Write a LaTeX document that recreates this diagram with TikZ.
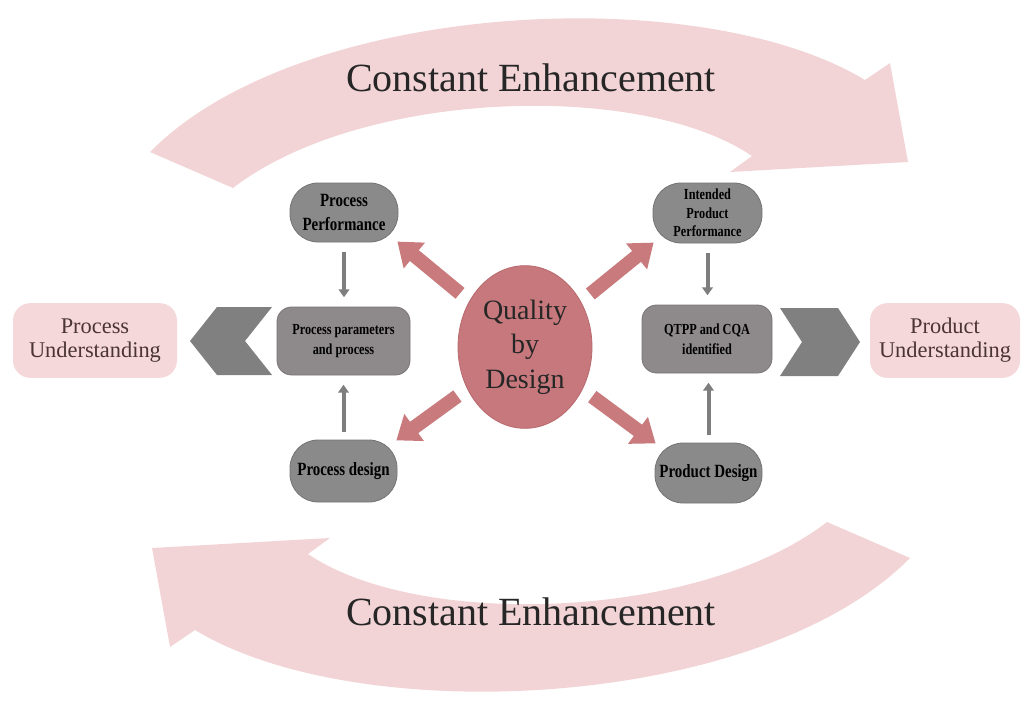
\documentclass[tikz,border=0pt]{standalone}
\usepackage{fontspec}
\setmainfont{Liberation Serif}
\newfontfamily\narrowbf[FakeStretch=0.8]{Liberation Serif}
\usetikzlibrary{arrows.meta,shapes.geometric}
\definecolor{bandpink}{HTML}{F2D4D6}
\definecolor{boxpink}{HTML}{F5D8DA}
\definecolor{boxtext}{HTML}{4A3434}
\definecolor{stadgray}{HTML}{8A8A8A}
\definecolor{stadline}{HTML}{747474}
\definecolor{rectgray}{HTML}{8E8A8C}
\definecolor{rectline}{HTML}{7A7678}
\definecolor{chevgray}{HTML}{808080}
\definecolor{qbdfill}{HTML}{C6787C}
\definecolor{qbdline}{HTML}{B8696E}
\definecolor{redarr}{HTML}{C87A7D}
\definecolor{arrgray}{HTML}{7E7E7E}
\begin{document}
\begin{tikzpicture}[x=0.75pt,y=-0.75pt,
  stadium/.style={draw=stadline, line width=0.6pt, fill=stadgray, rounded corners=21pt,
    align=center, inner sep=0pt, text=black,
    font=\narrowbf\bfseries\fontsize{14}{18}\selectfont},
  graybox/.style={draw=rectline, line width=0.6pt, fill=rectgray, rounded corners=11pt,
    align=center, inner sep=0pt, text=black,
    font=\narrowbf\bfseries\fontsize{11.5}{15}\selectfont},
  pinkbox/.style={fill=boxpink, rounded corners=13pt, align=center, inner sep=0pt,
    text=boxtext, font=\fontsize{16.8}{18}\selectfont},
  chevron/.style={fill=chevgray},
  band/.style={fill=bandpink},
  bandtext/.style={font=\fontsize{30}{36}\selectfont, text=black!85},
  redarrow/.style={draw=redarr, line width=10.5pt,
    -{Triangle[width=24pt,length=16.5pt]}, shorten <=9pt, shorten >=-1pt},
  grayarrow/.style={draw=arrgray, line width=3pt,
    -{Triangle[width=8pt,length=6pt]}}
]
\useasboundingbox (0,0) rectangle (1029,707);

% curved bands
\foreach \r in {0,180}{
  \fill[band, rotate around={\r:(530,355)}]
    (150,152) .. controls (300,0) and (700,-20) .. (865,80)
    -- (890,63) -- (908,162) -- (730,172) -- (752,156)
    .. controls (640,80) and (360,90) .. (233,188) -- cycle;
}
\node[bandtext] (ce1) at (531,78) {Constant Enhancement};
\node[bandtext] (ce2) at (531,612) {Constant Enhancement};

% chevrons
\fill[chevron] (272,307) -- (217,307) -- (190,341) -- (217,375) -- (272,375) -- (245,341) -- cycle;
\fill[chevron] (780,308) -- (838,308) -- (860,342) -- (838,376) -- (780,376) -- (802,342) -- cycle;

% nodes
\node[pinkbox, minimum width=123pt, minimum height=56pt] (pu) at (95,340.5) {Process\\Understanding};
\node[pinkbox, minimum width=112.5pt, minimum height=56pt] (pru) at (945,340.5) {Product\\Understanding};

\node[stadium, minimum width=81pt, minimum height=44.25pt] (pp) at (344,212.5) {Process\\Performance};
\node[stadium, minimum width=81.75pt, minimum height=45pt,
  font=\narrowbf\bfseries\fontsize{11.5}{14}\selectfont] (ipp) at (707.5,213) {Intended\\Product\\Performance};
\node[stadium, minimum width=80.25pt, minimum height=46.5pt] (pdes) at (343.5,471) {Process design};
\node[stadium, minimum width=80.25pt, minimum height=45pt] (prdes) at (708.5,473) {Product Design};

\node[graybox, minimum width=99.75pt, minimum height=51pt] (ppar) at (343.5,341) {Process parameters\\and process};
\node[graybox, minimum width=97.5pt, minimum height=51pt] (qtpp) at (707,339) {QTPP and CQA\\identified};

\node[ellipse, draw=qbdline, line width=0.6pt, fill=qbdfill, minimum width=100.5pt, minimum height=122pt,
  inner sep=0pt, align=center, text=black!85, font=\fontsize{21}{26}\selectfont] (qbd) at (525,347) {Quality\\by\\Design};

% red arrows
\draw[redarrow] (qbd) -- (pp.south east);
\draw[redarrow] (qbd) -- (ipp.south west);
\draw[redarrow] (qbd) -- (pdes.north east);
\draw[redarrow] (qbd) -- (prdes.north west);

% gray arrows
\draw[grayarrow, shorten <=7pt, shorten >=7pt] (pp.south) -- (pp.south |- ppar.north);
\draw[grayarrow, shorten <=7pt, shorten >=7pt] (ipp.south) -- (ipp.south |- qtpp.north);
\draw[grayarrow, shorten <=6pt, shorten >=7pt] (pdes.north) -- (pdes.north |- ppar.south);
\draw[grayarrow, shorten <=6pt, shorten >=7pt] (prdes.north) -- (prdes.north |- qtpp.south);
\end{tikzpicture}
\end{document}
